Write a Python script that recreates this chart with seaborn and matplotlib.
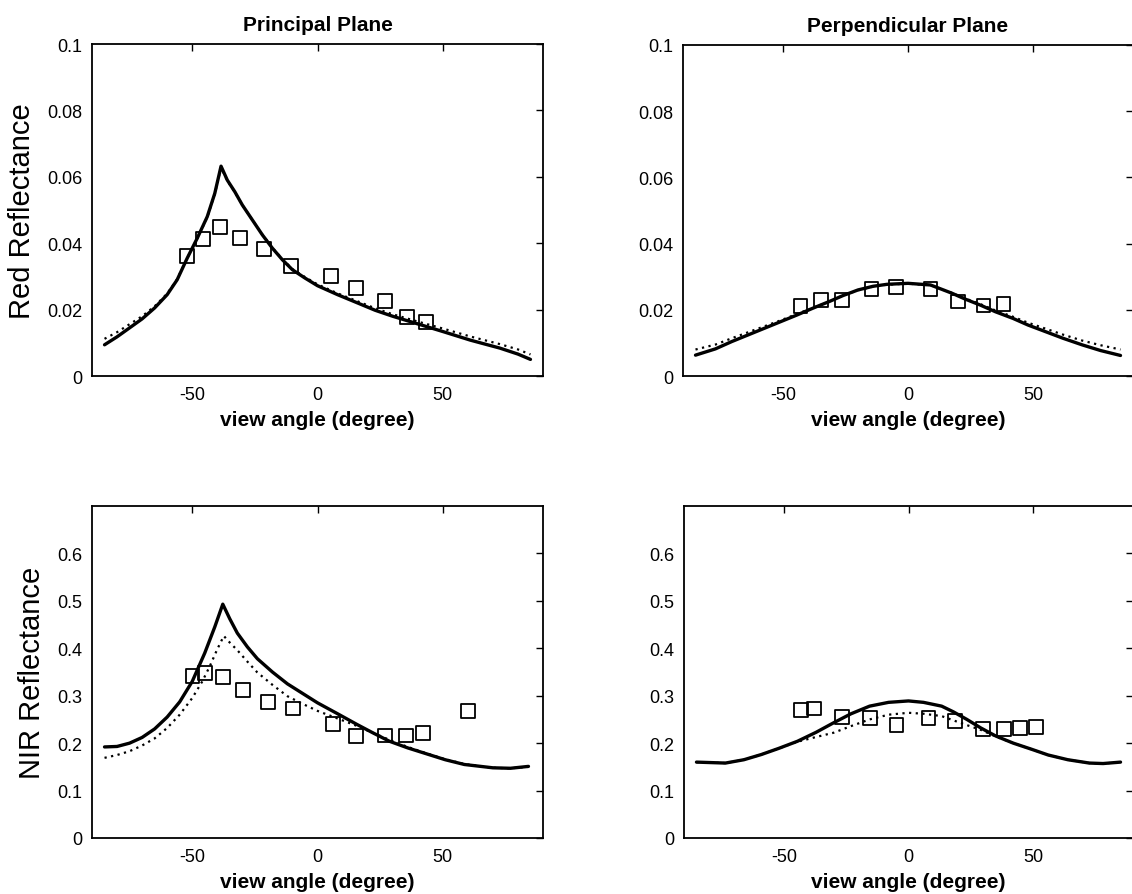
import numpy as np
import pandas as pd
import matplotlib
matplotlib.use("Agg")
import matplotlib.pyplot as plt
import seaborn as sns

# ---------------- data ----------------
# Red, principal plane
red_pp_x_solid = [-85, -80, -75, -70, -65, -60, -56, -52, -48, -44, -41, -38.5, -36, -33, -30, -26, -22, -18, -14, -10, -5, 0, 8, 16, 23, 30, 40, 50, 61, 72.8, 80, 85]
red_pp_y_solid = [0.0094, 0.0118, 0.0145, 0.0172, 0.0205, 0.0245, 0.029, 0.0355, 0.0415, 0.048, 0.055, 0.0632, 0.059, 0.0555, 0.0515, 0.047, 0.0425, 0.0385, 0.035, 0.032, 0.0295, 0.0272, 0.0245, 0.022, 0.0198, 0.018, 0.0157, 0.0134, 0.0108, 0.0084, 0.0066, 0.005]
red_pp_x_dot = [-85, -80, -75, -70, -65, -60, -56, -52, -48, -44, -41, -38.5, -36, -33, -30, -26, -22, -18, -14, -10, -5, 0, 8, 16, 23, 30, 40, 50, 61, 72.8, 80, 85]
red_pp_y_dot = [0.0112, 0.0132, 0.0156, 0.018, 0.021, 0.0248, 0.0292, 0.0355, 0.0414, 0.0478, 0.0548, 0.0628, 0.0588, 0.0554, 0.0515, 0.047, 0.0426, 0.0386, 0.0352, 0.0322, 0.0298, 0.0276, 0.0249, 0.0225, 0.0204, 0.0186, 0.0164, 0.0143, 0.0119, 0.0096, 0.0080, 0.0065]
red_pp_obs_x = [-52, -45.8, -38.8, -30.9, -21.5, -10.4, 5.5, 15.4, 27, 35.6, 43.2]
red_pp_obs_y = [0.0362, 0.0412, 0.0450, 0.0415, 0.0383, 0.0332, 0.0302, 0.0265, 0.0225, 0.0178, 0.0163]

# Red, perpendicular plane
red_xp_x_solid = [-85, -77, -70.5, -64, -57.5, -51, -44.5, -38, -31.5, -26, -20, -14, -8.4, 0, 9, 17.6, 23, 29, 35, 42, 48, 55, 62, 69.7, 77, 85]
red_xp_y_solid = [0.0063, 0.0082, 0.0104, 0.0124, 0.0144, 0.0164, 0.0184, 0.0205, 0.0225, 0.0243, 0.026, 0.0271, 0.0277, 0.028, 0.0275, 0.025, 0.0232, 0.0214, 0.0194, 0.0174, 0.0154, 0.0134, 0.0114, 0.0094, 0.0077, 0.0062]
red_xp_x_dot = [-85, -77, -70.5, -64, -57.5, -51, -44.5, -38, -31.5, -26, -20, -14, -8.4, 0, 9, 17.6, 23, 29, 35, 42, 48, 55, 62, 69.7, 77, 85]
red_xp_y_dot = [0.0080, 0.0095, 0.0114, 0.0132, 0.0150, 0.0168, 0.0187, 0.0206, 0.0225, 0.0243, 0.0259, 0.0270, 0.0276, 0.0279, 0.0274, 0.0251, 0.0234, 0.0217, 0.0198, 0.0179, 0.0161, 0.0143, 0.0125, 0.0107, 0.0093, 0.0080]
red_xp_obs_x = [-43, -34.8, -26.4, -14.6, -4.8, 9, 20, 30.2, 38.2]
red_xp_obs_y = [0.0212, 0.0230, 0.0230, 0.0262, 0.0270, 0.0263, 0.0225, 0.0213, 0.0218]

# NIR, principal plane
nir_pp_x_solid = [-85, -80, -75, -70, -65, -60, -55, -50, -45, -41, -37.8, -35, -32, -28, -24, -18, -12, -6, 0, 8, 15.9, 22, 28.7, 36, 44.4, 51, 58.6, 70, 77, 84.2]
nir_pp_y_solid = [0.192, 0.193, 0.200, 0.212, 0.230, 0.255, 0.287, 0.330, 0.390, 0.445, 0.493, 0.462, 0.432, 0.403, 0.378, 0.350, 0.325, 0.305, 0.285, 0.262, 0.239, 0.222, 0.204, 0.190, 0.176, 0.165, 0.155, 0.148, 0.147, 0.151]
nir_pp_x_dot = [-85, -80, -75, -70, -65, -60, -55, -50, -46, -43, -40, -37.4, -35, -32, -28, -24, -18, -12, -6, 0, 8, 15.9, 22, 28.7, 36, 44.4, 51, 58.6, 70, 77, 84.2]
nir_pp_y_dot = [0.169, 0.175, 0.183, 0.195, 0.210, 0.232, 0.260, 0.295, 0.330, 0.362, 0.398, 0.426, 0.412, 0.396, 0.372, 0.349, 0.323, 0.299, 0.283, 0.268, 0.252, 0.236, 0.222, 0.207, 0.192, 0.177, 0.166, 0.156, 0.148, 0.147, 0.150]
nir_pp_obs_x = [-49.9, -45, -37.8, -29.6, -19.6, -9.7, 6.3, 15.4, 27, 35.4, 42.2, 60]
nir_pp_obs_y = [0.342, 0.347, 0.339, 0.312, 0.287, 0.273, 0.240, 0.215, 0.216, 0.216, 0.221, 0.267]

# NIR, perpendicular plane
nir_xp_x_solid = [-85, -73.4, -66, -59, -52, -44.5, -37, -30, -23, -15.6, -8, 0, 6, 13.3, 18, 23.4, 29, 35, 42, 49.4, 56, 63.9, 72.5, 78, 85]
nir_xp_y_solid = [0.160, 0.158, 0.165, 0.176, 0.189, 0.204, 0.223, 0.243, 0.262, 0.278, 0.286, 0.289, 0.286, 0.278, 0.266, 0.250, 0.232, 0.215, 0.200, 0.187, 0.175, 0.165, 0.158, 0.157, 0.160]
nir_xp_x_dot = [-85, -73.4, -66, -59, -52, -44.5, -37, -30, -23, -15.6, -8, 0, 6, 13.3, 18, 23.4, 29, 35, 42, 49.4, 56, 63.9, 72.5, 78, 85]
nir_xp_y_dot = [0.160, 0.158, 0.165, 0.176, 0.189, 0.203, 0.213, 0.222, 0.236, 0.250, 0.260, 0.264, 0.262, 0.257, 0.248, 0.238, 0.228, 0.214, 0.200, 0.187, 0.175, 0.165, 0.158, 0.157, 0.160]
nir_xp_obs_x = [-43, -38, -26.7, -15.6, -4.8, 8, 18.6, 30, 38.2, 44.8, 51.2]
nir_xp_obs_y = [0.270, 0.273, 0.256, 0.253, 0.238, 0.253, 0.246, 0.229, 0.230, 0.232, 0.234]

x_ticks = [-50, 0, 50]
x_tick_labels = ["-50", "0", "50"]
red_y_ticks = [0, 0.02, 0.04, 0.06, 0.08, 0.1]
red_y_tick_labels = ["0", "0.02", "0.04", "0.06", "0.08", "0.1"]
nir_y_ticks = [0, 0.1, 0.2, 0.3, 0.4, 0.5, 0.6]
nir_y_tick_labels = ["0", "0.1", "0.2", "0.3", "0.4", "0.5", "0.6"]

col_titles = ["Principal Plane", "Perpendicular Plane"]
row_labels = ["Red Reflectance", "NIR Reflectance"]
x_label = "view angle (degree)"

# ---------------- drawing ----------------
sns.set_style("white")
plt.rcParams["font.family"] = ["Liberation Sans", "DejaVu Sans"]
plt.rcParams["text.color"] = "black"
plt.rcParams["axes.labelcolor"] = "black"
plt.rcParams["axes.titlecolor"] = "black"

W, H = 1132, 895
fig = plt.figure(figsize=(W / 100, H / 100), dpi=100)

def frac(l, t, r, b):
    return [l / W, 1 - b / H, (r - l) / W, (b - t) / H]

ax_tl = fig.add_axes(frac(92, 45, 543, 377))
ax_tr = fig.add_axes(frac(683, 46, 1133, 377))
ax_bl = fig.add_axes(frac(92, 507, 543, 839))
ax_br = fig.add_axes(frac(684, 507, 1133, 839))

panels = [
    (ax_tl, red_pp_x_solid, red_pp_y_solid, red_pp_x_dot, red_pp_y_dot, red_pp_obs_x, red_pp_obs_y, 0.1, red_y_ticks, red_y_tick_labels),
    (ax_tr, red_xp_x_solid, red_xp_y_solid, red_xp_x_dot, red_xp_y_dot, red_xp_obs_x, red_xp_obs_y, 0.1, red_y_ticks, red_y_tick_labels),
    (ax_bl, nir_pp_x_solid, nir_pp_y_solid, nir_pp_x_dot, nir_pp_y_dot, nir_pp_obs_x, nir_pp_obs_y, 0.7, nir_y_ticks, nir_y_tick_labels),
    (ax_br, nir_xp_x_solid, nir_xp_y_solid, nir_xp_x_dot, nir_xp_y_dot, nir_xp_obs_x, nir_xp_obs_y, 0.7, nir_y_ticks, nir_y_tick_labels),
]

for ax, xs, ys, xd, yd, xo, yo, ytop, yt, ytl in panels:
    sns.lineplot(x=xd, y=yd, ax=ax, color="black", lw=1.6, linestyle=(0, (1, 2.0)),
                 sort=False, estimator=None)
    sns.lineplot(x=xs, y=ys, ax=ax, color="black", lw=2.4, sort=False, estimator=None)
    sns.scatterplot(x=xo, y=yo, ax=ax, marker="s", s=100, facecolor="none",
                    edgecolor="black", linewidth=1.3, zorder=5)
    ax.set_xlim(-90, 90)
    ax.set_ylim(0, ytop)
    ax.set_xticks(x_ticks)
    ax.set_xticklabels(x_tick_labels)
    ax.set_yticks(yt)
    ax.set_yticklabels(ytl)
    ax.tick_params(direction="in", length=5, width=1, top=True, right=True,
                   labelsize=13, pad=7, colors="black")
    for sp in ax.spines.values():
        sp.set_color("black")
        sp.set_linewidth(1.3)
    ax.set_xlabel(x_label, fontsize=15, fontweight="bold", labelpad=5, color="black")
    ax.set_ylabel("")

ax_tl.set_title(col_titles[0], fontsize=15, fontweight="bold", pad=10, color="black")
ax_tr.set_title(col_titles[1], fontsize=15, fontweight="bold", pad=10, color="black")
ax_tl.set_ylabel(row_labels[0], fontsize=21, labelpad=8, color="black")
ax_bl.set_ylabel(row_labels[1], fontsize=21, labelpad=8, color="black")

fig.savefig("out.png", dpi=100, facecolor="white")
